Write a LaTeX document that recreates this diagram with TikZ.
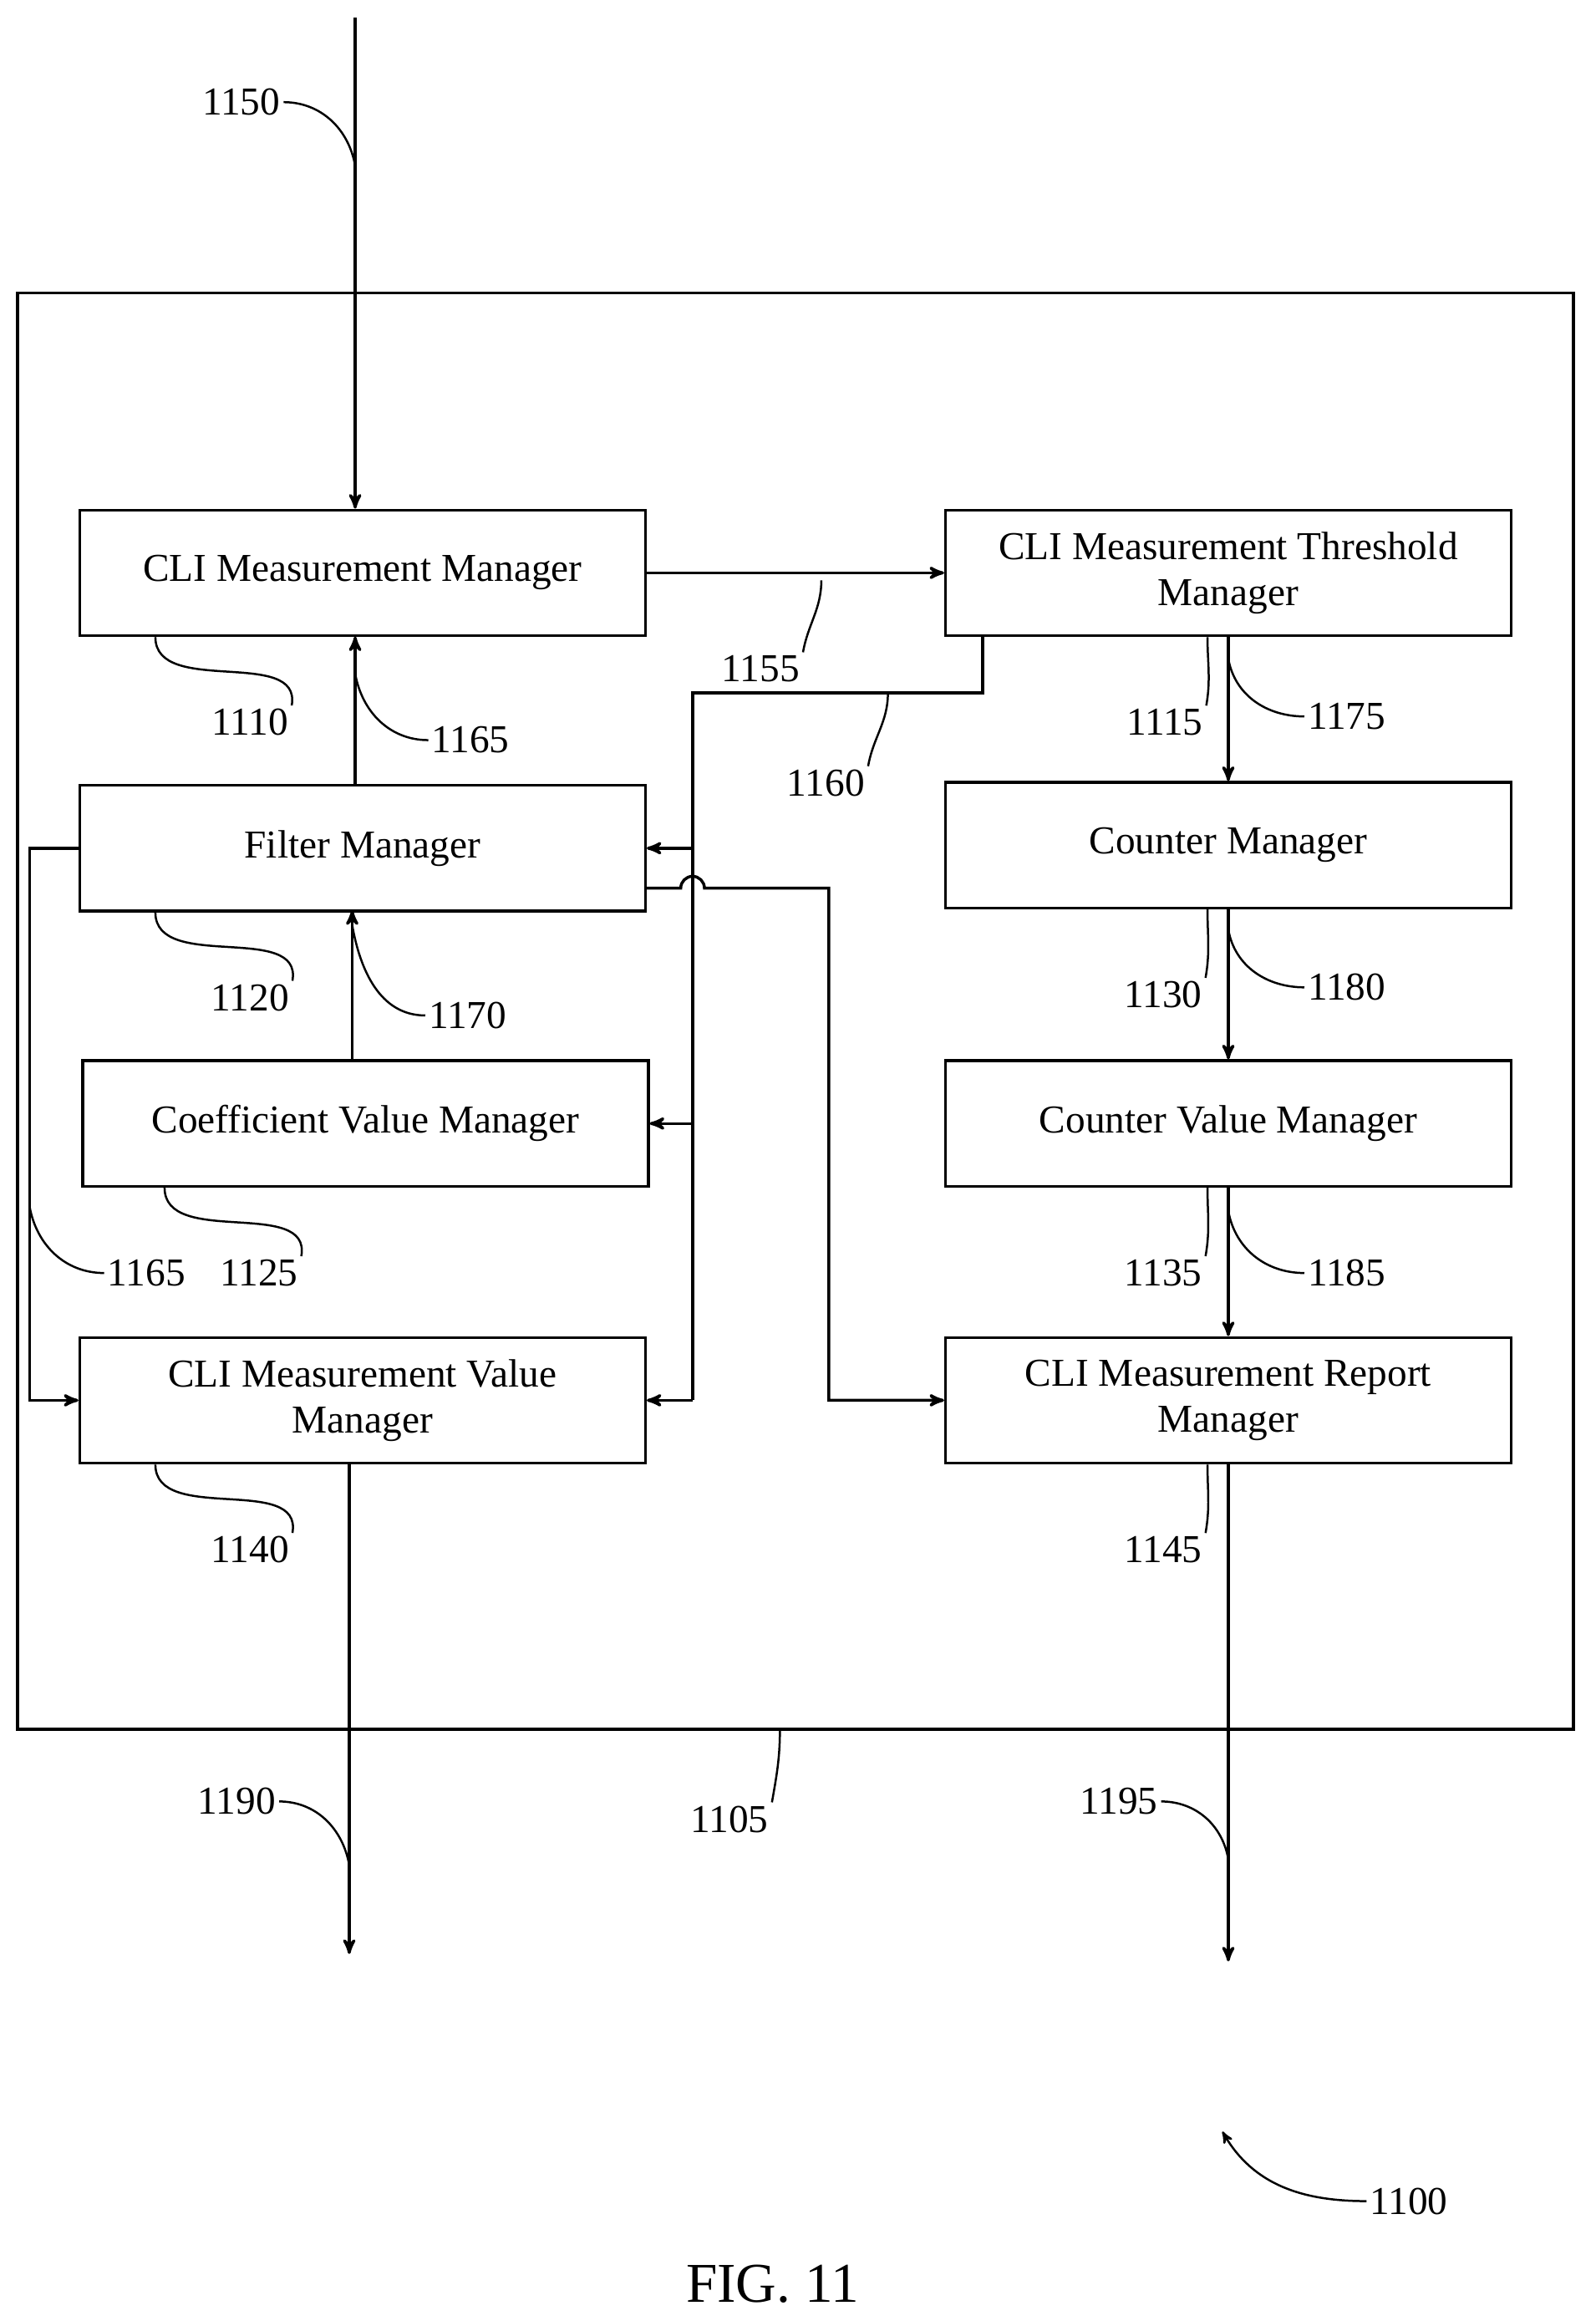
\documentclass[tikz,border=0pt]{standalone}
\usepackage{fontspec}
\setmainfont{Liberation Serif}
\usetikzlibrary{arrows,positioning}

\begin{document}
\begin{tikzpicture}[x=0.025cm,y=-0.025cm,>=stealth',line width=1.4pt,
    font=\fontsize{19}{22}\selectfont]

    \tikzstyle{block}=[draw, line width=1.4pt, minimum width=9.55cm, minimum height=2.12cm, align=center, inner sep=2pt]
    \tikzstyle{lead}=[line width=1pt, ->, >=]
    \tikzstyle{num}=[inner sep=1pt]

    \useasboundingbox (0,0) rectangle (1078,1568);
    \node[draw, line width=1.4pt, minimum width=26.28cm, minimum height=24.25cm] (frame) at (537.5,683) {};

    \node[block] (meas)    at (245,387)   {CLI Measurement Manager};
    \node[block] (thresh)  at (830,387)   {CLI Measurement Threshold\\Manager};
    \node[block] (filter)  at (245,573)   {Filter Manager};
    \node[block] (counter) at (830,571)   {Counter Manager};
    \node[block] (coeff)   at (247,759)   {Coefficient Value Manager};
    \node[block] (cval)    at (830,759)   {Counter Value Manager};
    \node[block] (value)   at (245,946)   {CLI Measurement Value\\Manager};
    \node[block] (report)  at (830,946)   {CLI Measurement Report\\Manager};

    \coordinate (in)   at (240,12);
    \coordinate (out1) at (236,1320);
    \coordinate (out2) at (830,1325);
    \coordinate (bus)  at (468,468);

    % main connectors
    \draw[->] (in) -- (in |- meas.north);
    \draw[->] (meas.east) -- (thresh.west);
    \draw (thresh.south west -| 664,0) -- (664,468) -- (bus) -- (bus |- value.east);
    \draw[->] (bus |- filter.east) -- (filter.east);
    \draw[->] (bus |- coeff.east) -- (coeff.east);
    \draw[->] (bus |- value.east) -- (value.east);
    \draw[->] (240,531) -- (240,430);
    \draw[->] (238,717) -- (238,615);
    \draw[->] (54,573) -- (20,573) -- (20,946) -- (value.west);
    \draw[->] (436,600) -- (460,600) arc (180:360:8) -- (560,600) -- (560,946) -- (report.west);
    \draw[->] (thresh.south) -- (counter.north);
    \draw[->] (counter.south) -- (cval.north);
    \draw[->] (cval.south) -- (report.north);
    \draw[->] (value.south -| out1) -- (out1);
    \draw[->] (report.south) -- (out2);

    % reference numerals
    \node[num] (n1150) at (163,69)   {1150};
    \node[num] (n1110) at (169,488)  {1110};
    \node[num] (n1165a) at (318,500) {1165};
    \node[num] (n1155) at (514,452)  {1155};
    \node[num] (n1160) at (558,529)  {1160};
    \node[num] (n1115) at (787,488)  {1115};
    \node[num] (n1175) at (910,484)  {1175};
    \node[num] (n1120) at (169,674)  {1120};
    \node[num] (n1170) at (316,686)  {1170};
    \node[num] (n1130) at (786,672)  {1130};
    \node[num] (n1180) at (910,667)  {1180};
    \node[num] (n1165b) at (99,860)  {1165};
    \node[num] (n1125) at (175,860)  {1125};
    \node[num] (n1135) at (786,860)  {1135};
    \node[num] (n1185) at (910,860)  {1185};
    \node[num] (n1140) at (169,1047) {1140};
    \node[num] (n1145) at (786,1047) {1145};
    \node[num] (n1105) at (493,1229) {1105};
    \node[num] (n1190) at (160,1217) {1190};
    \node[num] (n1195) at (756,1217) {1195};
    \node[num] (n1100) at (952,1487) {1100};
    \node[font=\fontsize{27}{30}\selectfont] (fig) at (522,1543) {FIG. 11};

    \draw[lead] (n1150.east) to[out=0,in=100] (240,112);
    \draw[lead] (n1110.north east) to[out=80,in=-90] ([xshift=37]meas.south west);
    \draw[lead] (n1165a.west) to[out=180,in=-80] (240,455);
    \draw[lead] (n1155.north east) to[out=80,in=-90] (555,392);
    \draw[lead] (n1160.north east) to[out=80,in=-90] (600,468);
    \draw[lead] (n1115.north east) to[out=80,in=-90] ([xshift=-10]thresh.south);
    \draw[lead] (n1175.west) to[out=180,in=-80] (830,445);
    \draw[lead] (n1120.north east) to[out=80,in=-90] ([xshift=37]filter.south west);
    \draw[lead] (n1170.west) to[out=180,in=-80] (238,625);
    \draw[lead] (n1130.north east) to[out=80,in=-90] ([xshift=-10]counter.south);
    \draw[lead] (n1180.west) to[out=180,in=-80] (830,628);
    \draw[lead] (n1165b.west) to[out=180,in=-80] (20,815);
    \draw[lead] (n1125.north east) to[out=80,in=-90] ([xshift=40]coeff.south west);
    \draw[lead] (n1135.north east) to[out=80,in=-90] ([xshift=-10]cval.south);
    \draw[lead] (n1185.west) to[out=180,in=-80] (830,818);
    \draw[lead] (n1140.north east) to[out=80,in=-90] ([xshift=37]value.south west);
    \draw[lead] (n1145.north east) to[out=80,in=-90] ([xshift=-10]report.south);
    \draw[lead] (n1105.north east) to[out=80,in=-90] (527,1168);
    \draw[lead] (n1190.east) to[out=0,in=100] (236,1260);
    \draw[lead] (n1195.east) to[out=0,in=100] (830,1256);
    \draw[->, line width=1pt] (n1100.west) to[out=180,in=-60] (826,1440);
\end{tikzpicture}
\end{document}
